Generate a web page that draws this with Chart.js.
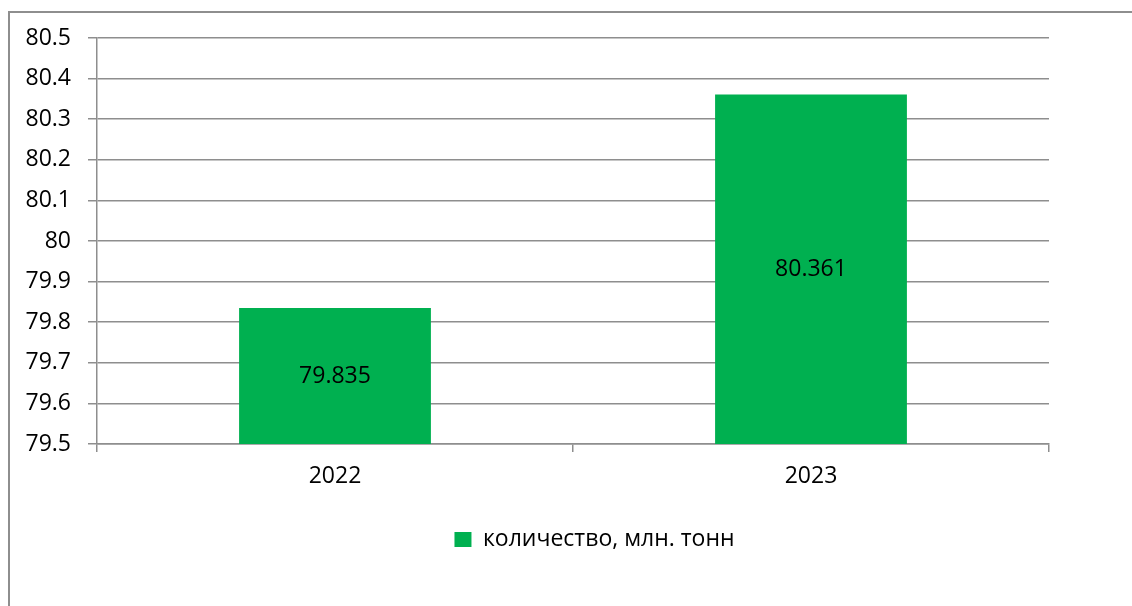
<!DOCTYPE html>
<html lang="ru">
<head>
  <meta charset="UTF-8" />
  <title>Количество, млн. тонн</title>
  <script src="https://cdn.jsdelivr.net/npm/chart.js"></script>
  <style>
    html, body { margin: 0; padding: 0; background: #fff; overflow: hidden; }
    .wrap { position: relative; width: 1132px; height: 606px; }
    .frame { position: absolute; left: 8px; top: 11px; width: 1200px; height: 700px;
             border-left: 2px solid #8e8e8e; border-top: 2px solid #8e8e8e; }
    canvas { position: absolute; left: 0; top: 0; }
  </style>
</head>
<body>
<div class="wrap">
  <div class="frame"></div>
  <canvas id="chart" width="1132" height="606"></canvas>
</div>

<script>
const years = ["2022", "2023"];
const volumes = [79.835, 80.361];
const seriesName = "количество, млн. тонн";
const yTickLabels = ["79.5", "79.6", "79.7", "79.8", "79.9", "80", "80.1", "80.2", "80.3", "80.4", "80.5"];

const FONT = "'Open Sans', 'Noto Sans', sans-serif";
const GRID = '#8e8e8e';

// value labels in the middle of each bar
const barLabels = {
  id: 'barLabels',
  afterDatasetsDraw(chart) {
    const ctx = chart.ctx;
    const meta = chart.getDatasetMeta(0);
    const bottom = chart.scales.y.bottom;
    ctx.save();
    ctx.font = '23px ' + FONT;
    ctx.fillStyle = '#000';
    ctx.textAlign = 'center';
    ctx.textBaseline = 'middle';
    meta.data.forEach((bar, i) => {
      const p = bar.getProps(['x', 'y']);
      ctx.fillText(String(volumes[i]), p.x, (p.y + bottom) / 2);
    });
    ctx.restore();
  }
};

// legend sits a bit right of the canvas centre
const legendShift = {
  id: 'legendShift',
  afterLayout(chart) {
    chart.legend.left += 70;
    chart.legend.right += 70;
  }
};

new Chart(document.getElementById('chart'), {
  type: 'bar',
  data: {
    labels: years,
    datasets: [{
      label: seriesName,
      data: volumes,
      backgroundColor: '#00b050',
      borderWidth: 0,
      barPercentage: 1,
      categoryPercentage: 0.403
    }]
  },
  options: {
    responsive: false,
    animation: false,
    layout: { padding: { left: 0, top: 38, right: 83, bottom: 45 } },
    plugins: {
      tooltip: { enabled: false },
      legend: {
        position: 'bottom',
        labels: {
          boxWidth: 17,
          boxHeight: 15,
          padding: 10,
          color: '#000',
          font: { family: FONT, size: 23 }
        }
      }
    },
    scales: {
      x: {
        grid: { drawOnChartArea: false, drawTicks: true, tickLength: 8, color: GRID, lineWidth: 1.5 },
        border: { display: true, color: GRID, width: 1.5 },
        ticks: { color: '#000', padding: 11, font: { family: FONT, size: 23 } },
        afterFit(scale) { scale.height = 74; }
      },
      y: {
        min: 79.5,
        max: 80.5,
        grid: { color: GRID, lineWidth: 1.5, tickLength: 9 },
        border: { display: true, color: GRID, width: 1.5 },
        ticks: {
          stepSize: 0.1,
          color: '#000',
          padding: 17,
          font: { family: FONT, size: 23 },
          callback: (v, i) => yTickLabels[i]
        },
        afterFit(scale) { scale.width = 97; }
      }
    }
  },
  plugins: [barLabels, legendShift]
});
</script>
</body>
</html>
